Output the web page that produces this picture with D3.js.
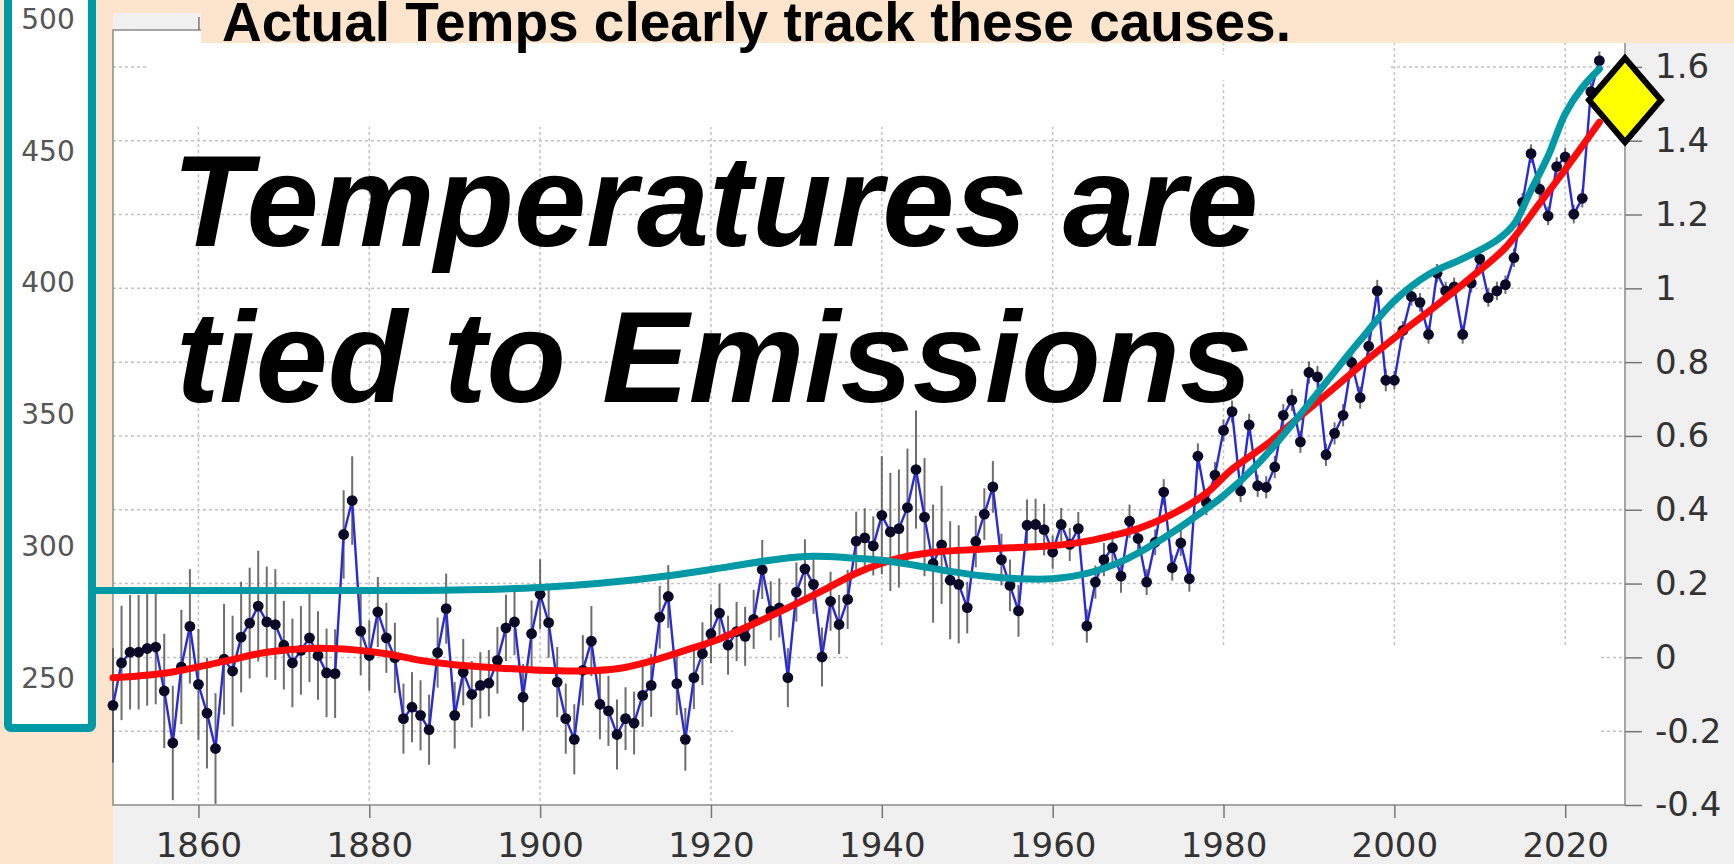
<!DOCTYPE html>
<html>
<head>
<meta charset="utf-8">
<script src="https://cdn.jsdelivr.net/npm/d3@7"></script>
<style>
  html, body { margin: 0; padding: 0; background: #fce4cd; }
  svg { display: block; }
  .tick text { font-family: "DejaVu Sans", sans-serif; font-size: 34px; fill: #333; }
  .tick line { stroke: #777; stroke-width: 1.5; }
</style>
</head>
<body>
<svg id="chart" width="1734" height="864"></svg>
<script>
// ---- data ----
var years = d3.range(1850, 2025);

// annual temperature anomaly (deg C), 1850..2024, one row per decade
var temps = [
  -0.130, -0.015, 0.014, 0.014, 0.024, 0.028, -0.091, -0.232, -0.026, 0.084,
  -0.073, -0.151, -0.247, -0.005, -0.037, 0.055, 0.093, 0.139, 0.096, 0.089,
  0.033, -0.015, 0.019, 0.053, 0.005, -0.042, -0.044, 0.333, 0.425, 0.071,
  0.005, 0.123, 0.053, -0.001, -0.166, -0.135, -0.157, -0.196, 0.013, 0.132,
  -0.157, -0.040, -0.100, -0.076, -0.070, -0.008, 0.080, 0.096, -0.108, 0.064,
  0.171, 0.094, -0.067, -0.166, -0.222, -0.035, 0.044, -0.127, -0.145, -0.209,
  -0.166, -0.178, -0.103, -0.076, 0.109, 0.165, -0.071, -0.222, -0.055, 0.010,
  0.064, 0.120, 0.033, 0.070, 0.057, 0.103, 0.238, 0.126, 0.134, -0.055,
  0.177, 0.240, 0.198, 0.001, 0.152, 0.089, 0.157, 0.315, 0.324, 0.302,
  0.385, 0.340, 0.349, 0.406, 0.509, 0.380, 0.254, 0.305, 0.209, 0.198,
  0.135, 0.314, 0.388, 0.462, 0.265, 0.195, 0.126, 0.358, 0.360, 0.346,
  0.285, 0.360, 0.306, 0.349, 0.085, 0.204, 0.265, 0.297, 0.220, 0.369,
  0.322, 0.204, 0.312, 0.448, 0.243, 0.310, 0.213, 0.545, 0.420, 0.494,
  0.615, 0.666, 0.451, 0.630, 0.465, 0.461, 0.516, 0.656, 0.697, 0.584,
  0.772, 0.760, 0.549, 0.607, 0.656, 0.799, 0.704, 0.843, 0.993, 0.751,
  0.751, 0.886, 0.978, 0.962, 0.875, 1.041, 0.993, 1.004, 0.875, 1.014,
  1.080, 0.975, 0.993, 1.010, 1.083, 1.233, 1.365, 1.269, 1.196, 1.330,
  1.356, 1.201, 1.244, 1.533, 1.617
];

// half-length of the uncertainty bars, by decade
var uncDecades = [1850, 1860, 1870, 1880, 1890, 1900, 1910, 1920, 1930, 1940, 1950, 1960, 1970, 1980, 1990, 2000, 2010, 2020];
var uncValues  = [0.155, 0.150, 0.120, 0.095, 0.090, 0.095, 0.085, 0.080, 0.080, 0.160, 0.070, 0.045, 0.035, 0.030, 0.030, 0.025, 0.025, 0.025];

// smoothed trend (red)
var smoothYears = [1850, 1856, 1863, 1868, 1874, 1878, 1882, 1886, 1890, 1894, 1900, 1905, 1909, 1913, 1917, 1921, 1925, 1929, 1933, 1937, 1940, 1943, 1947, 1951, 1955, 1959, 1963, 1967, 1970, 1974, 1978, 1981, 1985, 1989, 1993, 1997, 2001, 2005, 2009, 2013, 2017, 2020, 2024];
var smoothTemps = [-0.055, -0.043, -0.011, 0.014, 0.025, 0.021, 0.010, -0.008, -0.020, -0.027, -0.035, -0.037, -0.031, -0.010, 0.019, 0.050, 0.091, 0.134, 0.180, 0.228, 0.255, 0.274, 0.287, 0.292, 0.297, 0.301, 0.311, 0.330, 0.349, 0.388, 0.445, 0.510, 0.576, 0.654, 0.731, 0.810, 0.884, 0.955, 1.030, 1.110, 1.230, 1.322, 1.450];

// CO2 curve (teal), ppm on the left box scale
var co2Years = [1848, 1860, 1870, 1880, 1890, 1900, 1907, 1915, 1922, 1928, 1932, 1936, 1940, 1944, 1948, 1952, 1956, 1960, 1964, 1968, 1972, 1976, 1980, 1984, 1988, 1992, 1996, 2000, 2004, 2008, 2012, 2014, 2016, 2018, 2020, 2022, 2024];
var co2Ppm   = [283, 283, 283, 283, 283.2, 284.2, 285.8, 288.6, 292, 295, 296, 295.5, 294.5, 292.5, 290.3, 288.5, 287.5, 287.5, 289.5, 294, 301, 309.5, 319, 331, 346, 362, 378, 393, 403, 409, 416, 422, 435, 448, 464, 474, 481];

var xTicks = [1860, 1880, 1900, 1920, 1940, 1960, 1980, 2000, 2020];
var tempTicks = [-0.4, -0.2, 0, 0.2, 0.4, 0.6, 0.8, 1, 1.2, 1.4, 1.6];
var ppmTicks = [250, 300, 350, 400, 450, 500];
var marker = {year: 2027, value: 1.51};

var bannerText = "Actual Temps clearly track these causes.";
var titleLines = ["Temperatures are", "tied to Emissions"];

// ---- layout ----
var W = 1734, H = 864;
var plot = {left: 113, right: 1625, top: 30, bottom: 805};
var peach = "#fce4cd", teal = "#0099a5";

var x = d3.scaleLinear().domain([1850, 2027]).range([plot.left, plot.right]);
var y = d3.scaleLinear().domain([-0.4, 1.7]).range([plot.bottom, plot.top]);
var yPpm = d3.scaleLinear().domain([250, 500]).range([677.5, 19]);

var svg = d3.select("#chart");

svg.append("rect").attr("width", W).attr("height", H).attr("fill", peach);
// matplotlib figure background
svg.append("rect").attr("x", plot.left).attr("y", 13)
    .attr("width", W - plot.left).attr("height", H - 13).attr("fill", "#f0f0f0");
svg.append("rect").attr("x", plot.left).attr("y", plot.top)
    .attr("width", plot.right - plot.left).attr("height", plot.bottom - plot.top)
    .attr("fill", "#fff");

// grid
var grid = svg.append("g").attr("stroke", "#c4c4c4").attr("stroke-width", 1.5)
    .attr("stroke-dasharray", "3,3");
grid.selectAll(".gh").data(tempTicks.slice(1)).enter().append("line")
    .attr("x1", plot.left).attr("x2", plot.right)
    .attr("y1", function(d) { return y(d); }).attr("y2", function(d) { return y(d); });
grid.selectAll(".gv").data(xTicks).enter().append("line")
    .attr("y1", plot.top).attr("y2", plot.bottom)
    .attr("x1", function(d) { return x(d); }).attr("x2", function(d) { return x(d); });

// erased patches of the original image (grid is missing there)
var masks = [
  [147, 31, 1063, 96], [1210, 55, 180, 25],
  [850, 648, 750, 156], [733, 665, 117, 139]
];
svg.selectAll(".mask").data(masks).enter().append("rect")
    .attr("x", function(d) { return d[0]; }).attr("y", function(d) { return d[1]; })
    .attr("width", function(d) { return d[2]; }).attr("height", function(d) { return d[3]; })
    .attr("fill", "#fff");

// spines
svg.append("rect").attr("x", plot.left).attr("y", plot.top)
    .attr("width", plot.right - plot.left).attr("height", plot.bottom - plot.top)
    .attr("fill", "none").attr("stroke", "#8a8a8a").attr("stroke-width", 1.5);

// axes
var xAxis = svg.append("g").attr("transform", "translate(0," + plot.bottom + ")")
    .call(d3.axisBottom(x).tickValues(xTicks).tickFormat(d3.format("d"))
      .tickSize(13).tickSizeOuter(0).tickPadding(15));
xAxis.select(".domain").remove();

var topAxis = svg.append("g").attr("transform", "translate(0," + plot.top + ")")
    .call(d3.axisTop(x).tickValues(xTicks).tickFormat("").tickSize(13).tickSizeOuter(0));
topAxis.select(".domain").remove();

var yAxis = svg.append("g").attr("transform", "translate(" + plot.right + ",0)")
    .call(d3.axisRight(y).tickValues(tempTicks)
      .tickFormat(function(d) { return String(+d.toFixed(1)); })
      .tickSize(17).tickSizeOuter(0).tickPadding(13));
yAxis.select(".domain").remove();

// uncertainty bars
function unc(yr) { return uncValues[uncDecades.indexOf(Math.floor(yr / 10) * 10)]; }
svg.append("g").selectAll("line").data(years).enter().append("line")
    .attr("x1", function(d) { return x(d); }).attr("x2", function(d) { return x(d); })
    .attr("y1", function(d, i) { return y(temps[i] - unc(d)); })
    .attr("y2", function(d, i) { return y(temps[i] + unc(d)); })
    .attr("stroke", "#555").attr("stroke-width", 2).attr("opacity", 0.85);

// annual series
var annualLine = d3.line()
    .x(function(d) { return x(d); })
    .y(function(d, i) { return y(temps[i]); });
svg.append("path").datum(years).attr("d", annualLine)
    .attr("fill", "none").attr("stroke", "#2a2ad8").attr("stroke-width", 2.4);
svg.append("g").selectAll("circle").data(years).enter().append("circle")
    .attr("cx", function(d) { return x(d); })
    .attr("cy", function(d, i) { return y(temps[i]); })
    .attr("r", 5.4).attr("fill", "#0a0a28");

// smoothed trend
var smoothLine = d3.line().curve(d3.curveCatmullRom)
    .x(function(d) { return x(d); })
    .y(function(d, i) { return y(smoothTemps[i]); });
svg.append("path").datum(smoothYears).attr("d", smoothLine)
    .attr("fill", "none").attr("stroke", "#ff0a0a").attr("stroke-width", 7)
    .attr("stroke-linecap", "round");

// CO2 curve
var co2Line = d3.line().curve(d3.curveCatmullRom)
    .x(function(d) { return x(d); })
    .y(function(d, i) { return yPpm(co2Ppm[i]); });
svg.append("path").datum(co2Years).attr("d", co2Line)
    .attr("fill", "none").attr("stroke", teal).attr("stroke-width", 7)
    .attr("stroke-linecap", "round");

// yellow diamond
var mx = x(marker.year), my = y(marker.value);
svg.append("path")
    .attr("d", "M" + mx + "," + (my - 42) + "L" + (mx + 36) + "," + my +
               "L" + mx + "," + (my + 42) + "L" + (mx - 36) + "," + my + "Z")
    .attr("fill", "#ffff00").attr("stroke", "#000").attr("stroke-width", 6)
    .attr("stroke-linejoin", "miter");

// big overlay text
svg.append("g").selectAll("text").data(titleLines).enter().append("text")
    .attr("x", function(d, i) { return i ? 176 : 172; })
    .attr("y", function(d, i) { return 246 + i * 156; })
    .attr("font-family", "'Liberation Sans', Arial, sans-serif")
    .attr("font-size", 130).attr("font-weight", "bold").attr("font-style", "italic")
    .attr("fill", "#000")
    .text(function(d) { return d; });

// banner on top
svg.append("rect").attr("x", 201).attr("y", 0).attr("width", W - 201).attr("height", 43)
    .attr("fill", peach);
svg.append("text").attr("x", 222).attr("y", 41)
    .attr("font-family", "'Liberation Sans', Arial, sans-serif")
    .attr("font-size", 55).attr("font-weight", "bold").attr("fill", "#000")
    .text(bannerText);

// left CO2 box
svg.append("rect").attr("x", 8).attr("y", -20).attr("width", 84).attr("height", 748)
    .attr("rx", 3).attr("fill", "#fff").attr("stroke", teal).attr("stroke-width", 8);
svg.append("g").selectAll("text").data(ppmTicks).enter().append("text")
    .attr("x", 48).attr("y", function(d) { return yPpm(d); }).attr("dy", "0.36em")
    .attr("text-anchor", "middle")
    .attr("font-family", "'DejaVu Sans', sans-serif").attr("font-size", 28)
    .attr("fill", "#555")
    .text(function(d) { return d; });
</script>
</body>
</html>
